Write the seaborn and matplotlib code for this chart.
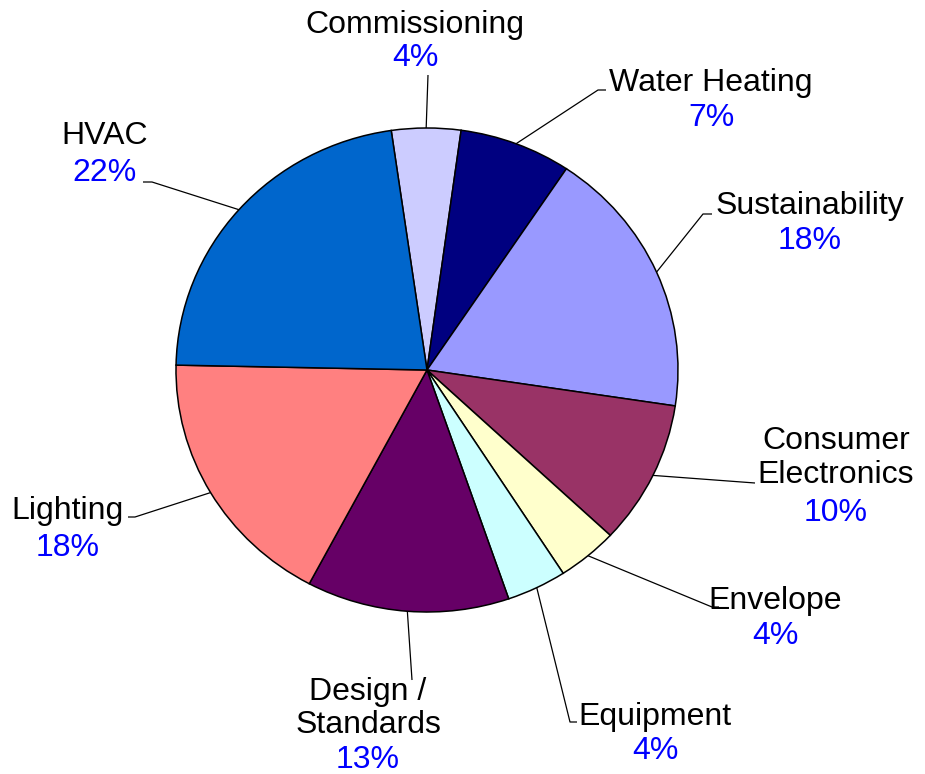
import numpy as np
import matplotlib
matplotlib.use("Agg")
import matplotlib.pyplot as plt
import seaborn as sns

# Share of topics (percent), clockwise from the top
categories = ["Commissioning", "Water Heating", "Sustainability", "Consumer\nElectronics",
              "Envelope", "Equipment", "Design /\nStandards", "Lighting", "HVAC"]
shares = [4.45, 7.2, 18.0, 9.6, 3.9, 3.85, 13.05, 17.55, 22.4]
colors = ["#CCCCFF", "#000080", "#9999FF", "#993366", "#FFFFCC",
          "#CCFFFF", "#660066", "#FF8080", "#0066CC"]

sns.set_theme(style="white")
plt.rcParams["font.family"] = ["Liberation Sans", "DejaVu Sans"]

W, H = 925, 774
fig = plt.figure(figsize=(W / 100, H / 100), dpi=100)
ax = fig.add_axes([0, 0, 1, 1])

# pie centre and radii in pixels
cx, cy, rx, ry = 427, 370, 251, 242


def to_data(px, py):
    return (px - cx) / rx, (cy - py) / ry


wedges, _ = ax.pie(shares, colors=colors, startangle=98.2, counterclock=False,
                   radius=1.0, center=(0, 0),
                   wedgeprops=dict(edgecolor="black", linewidth=1.1))
ax.set_aspect("auto")
ax.set_xlim(-cx / rx, (W - cx) / rx)
ax.set_ylim(-(H - cy) / ry, cy / ry)
ax.axis("off")

total = sum(shares)
pct_labels = [f"{100 * v / total:.0f}%" for v in shares]

# label layout: text centre x, baselines for each line, leader elbow and end (pixels)
layout = [
    dict(x=415, ys=[33, 66], elbow=(428, 75), end=(428, 75)),
    dict(x=711, ys=[91, 126], elbow=(598, 90), end=(606, 90)),
    dict(x=810, ys=[214, 249], elbow=(703, 214), end=(712, 214)),
    dict(x=836, ys=[449, 483, 521], elbow=(755, 483), end=(755, 483)),
    dict(x=775, ys=[609, 644], elbow=(712, 607), end=(719, 607)),
    dict(x=655, ys=[725, 759], elbow=(570, 722), end=(577, 722)),
    dict(x=368, ys=[700, 733, 768], elbow=(412, 680), end=(412, 680)),
    dict(x=68, ys=[519, 556], elbow=(135, 517), end=(128, 517)),
    dict(x=105, ys=[144, 181], elbow=(152, 182), end=(143, 182)),
]

fs = 23
for w, name, pct, lay in zip(wedges, categories, pct_labels, layout):
    mid = np.deg2rad((w.theta1 + w.theta2) / 2)
    ax0, ay0 = np.cos(mid), np.sin(mid)
    ex, ey = to_data(*lay["elbow"])
    fx, fy = to_data(*lay["end"])
    ax.plot([ax0, ex, fx], [ay0, ey, fy], color="black", lw=0.9,
            solid_capstyle="butt", zorder=1)
    lines = name.split("\n")
    for i, ln in enumerate(lines):
        tx, ty = to_data(lay["x"], lay["ys"][i])
        ax.text(tx, ty, ln, ha="center", va="baseline", fontsize=fs, color="black")
    tx, ty = to_data(lay["x"], lay["ys"][len(lines)])
    ax.text(tx, ty, pct, ha="center", va="baseline", fontsize=fs, color="#0000FF")

fig.savefig("out.png", dpi=100, facecolor="white")
